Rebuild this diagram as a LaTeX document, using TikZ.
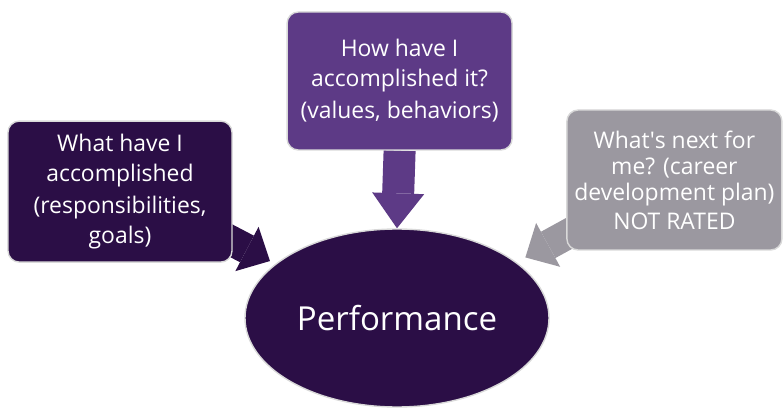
\documentclass[tikz,border=0pt]{standalone}
\usepackage{fontspec}
\setmainfont{Open Sans}
\usetikzlibrary{arrows.meta,shapes.geometric,backgrounds}
\definecolor{darkplum}{HTML}{2B0E46}
\definecolor{midplum}{HTML}{5D3A86}
\definecolor{stone}{HTML}{9B98A0}
\tikzset{
	card/.style={rounded corners=8pt, draw=black!15, line width=1pt, text=white, align=center, inner sep=0pt, font=\fontsize{16.3}{21}\selectfont},
	fat/.style={line width=0.75cm, -{Triangle[length=0.65cm, width=1.25cm, line width=0pt]}}
}
\begin{document}
\begin{tikzpicture}[line join=round]
			\useasboundingbox (0,0) rectangle (19.6,-10.225);
			\path
			(3,-4.79)coordinate(D)
			(9.99,-2.025)coordinate(H)
			(16.86,-4.5)coordinate(N)
			(9.925,-7.95)coordinate(P)
			(4.9,-5.5575)coordinate(lstart)
			(14.875,-5.48)coordinate(rstart)
			;
			\node[card, fill=darkplum, minimum width=5.6cm, minimum height=3.525cm] (done) at (D) {What have I\\accomplished\\[2pt](responsibilities,\\goals)};
			\node[card, fill=midplum, minimum width=5.625cm, minimum height=3.45cm] (how) at (H) {How have I\\accomplished it?\\[2pt](values, behaviors)};
			\node[card, fill=stone, minimum width=5.375cm, minimum height=3.5cm, font=\fontsize{16.3}{18.5}\selectfont] (next) at (N) {What\textquotesingle s next for\\me? (career\\development plan)\\[2pt]NOT RATED};
			\node[ellipse, fill=darkplum, draw=black!15, line width=1pt, minimum width=7.6cm, minimum height=4.45cm, inner sep=0pt, text=white, font=\fontsize{23.5}{27}\selectfont] (perf) at (P) {Performance};
			\begin{scope}[on background layer]
			\draw[fat, darkplum, shorten >=0.15cm] (lstart)--(perf.156);
			\draw[fat, midplum, line width=0.8cm, -{Triangle[length=0.875cm, width=1.3cm, line width=0pt]}] (how.south)--(perf.north);
			\draw[fat, stone, shorten >=0.25cm] (rstart)--(perf.25);
			\end{scope}
			\end{tikzpicture}
\end{document}
